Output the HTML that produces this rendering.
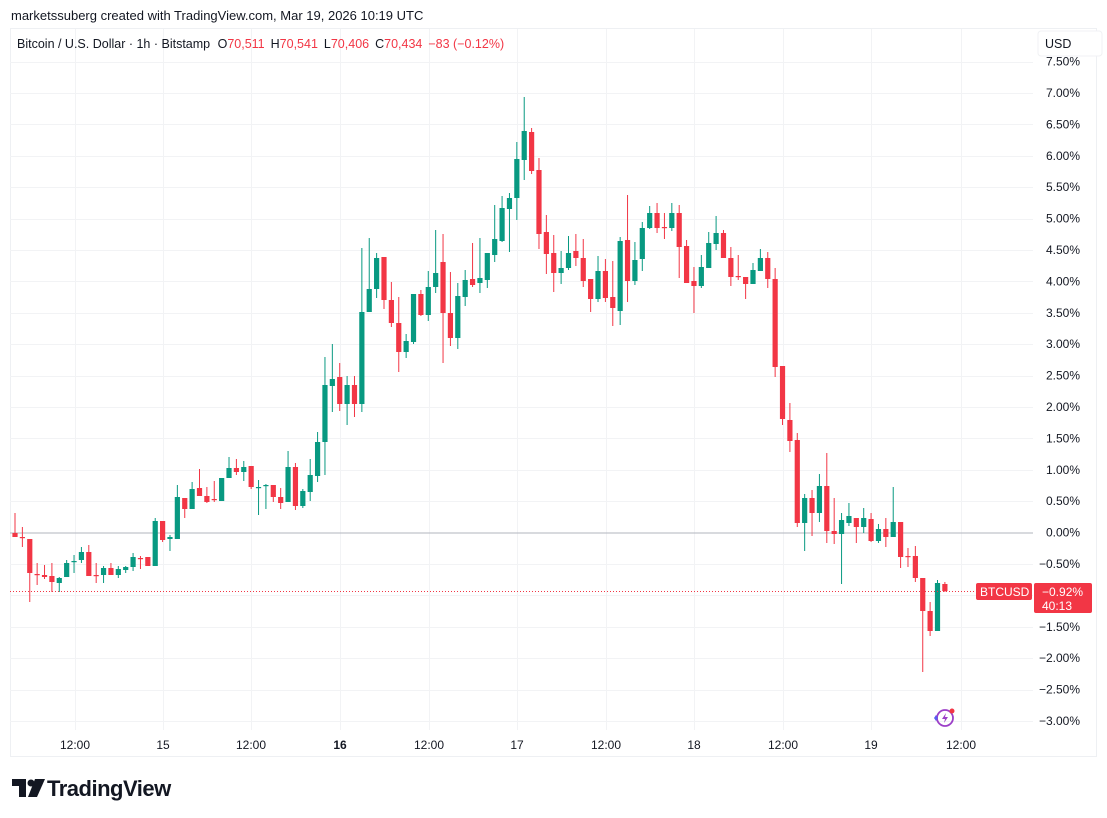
<!DOCTYPE html>
<html><head><meta charset="utf-8">
<style>
body{margin:0;background:#fff;width:1107px;height:818px;overflow:hidden;font-family:"Liberation Sans",sans-serif;}
svg{position:absolute;left:0;top:0}
</style></head><body>
<svg id="s" width="1107" height="818" xmlns="http://www.w3.org/2000/svg" font-family="Liberation Sans, sans-serif">
<text x="11" y="20" font-size="13" fill="#131722">marketssuberg created with TradingView.com, Mar 19, 2026 10:19 UTC</text>
<rect x="10.5" y="28.5" width="1086" height="728" fill="none" stroke="#eef0f3"/>
<g id="grid"></g>
<line x1="10" y1="533" x2="1033" y2="533" stroke="#b2b5be" stroke-width="1"/>
<g id="c"></g>
<line x1="10" y1="591.5" x2="976" y2="591.5" stroke="#f23645" stroke-width="1" stroke-dasharray="1,2"/>
<text x="17" y="48" font-size="12.5" fill="#131722">Bitcoin / U.S. Dollar · 1h · Bitstamp <tspan dx="4">O</tspan><tspan fill="#f23645">70,511</tspan><tspan dx="6">H</tspan><tspan fill="#f23645">70,541</tspan><tspan dx="6">L</tspan><tspan fill="#f23645">70,406</tspan><tspan dx="6">C</tspan><tspan fill="#f23645">70,434</tspan><tspan dx="6" fill="#f23645">−83 (−0.12%)</tspan></text>
<g id="ax" font-size="12" fill="#131722" text-anchor="end"></g>
<rect x="1038" y="31" width="64" height="25" rx="3" fill="#fff" stroke="#f0f1f4"/>
<text x="1045" y="48" font-size="12.5" fill="#131722">USD</text>
<rect x="976" y="583" width="56" height="17" rx="2" fill="#f23645"/>
<text x="980" y="596" font-size="12" fill="#fff">BTCUSD</text>
<rect x="1034" y="583" width="58" height="30" rx="2" fill="#f23645"/>
<text x="1042" y="596" font-size="12" fill="#fff">−0.92%</text>
<text x="1042" y="610" font-size="12" fill="#fff">40:13</text>
<g font-size="12" fill="#131722" text-anchor="middle">
<text x="75" y="749">12:00</text><text x="163" y="749">15</text><text x="251" y="749">12:00</text><text x="340" y="749" font-weight="bold">16</text><text x="429" y="749">12:00</text><text x="517" y="749">17</text><text x="606" y="749">12:00</text><text x="694" y="749">18</text><text x="783" y="749">12:00</text><text x="871" y="749">19</text><text x="961" y="749">12:00</text>
</g>
<g transform="translate(945,718)">
<circle cx="0" cy="0" r="8" fill="none" stroke="#9c3fc8" stroke-width="1.8"/>
<path d="M1,-5 L-3,1 L0,1 L-1,5 L3,-1 L0,-1 Z" fill="#9c3fc8"/>
<circle cx="7" cy="-7" r="2.5" fill="#f23645"/>
<path d="M-9,-3 L-7,0 L-9,3 L-11,0 Z" fill="#5b5bf0"/>
</g>
<g transform="translate(12,779)" fill="#131722">
<path d="M0,0 H14 V18 H7 V7 H0 Z"/>
<circle cx="19" cy="4" r="3.5"/>
<path d="M23,0 H33 L25,18 H16 Z"/>
<text x="35" y="17" font-size="22" font-weight="bold" letter-spacing="-0.5">TradingView</text>
</g>
</svg>
<script>
var ns="http://www.w3.org/2000/svg";
function el(p,t,a){var e=document.createElementNS(ns,t);for(var k in a)e.setAttribute(k,a[k]);p.appendChild(e);return e;}
var g=document.getElementById('grid');
[75,163,251,340,429,517,606,694,783,871,961].forEach(function(x){el(g,'line',{x1:x+.5,y1:29,x2:x+.5,y2:730,stroke:'#f2f3f5'});});
var ax=document.getElementById('ax');
for(var i=0;i<=21;i++){var p=7.5-i*0.5;var y=532.6-p*62.8;
 if(Math.abs(p)>1e-9) el(g,'line',{x1:10,y1:Math.round(y)+.5,x2:1033,y2:Math.round(y)+.5,stroke:'#f2f3f5'});
 var t=el(ax,'text',{x:1080,y:y+4});t.textContent=(p<0?'−':'')+Math.abs(p).toFixed(2)+'%';}
var D=[
['r',533,537,513,537],['r',537,538,527,547],['r',539,573,539,602],['r',574,575,563,585],['r',575,577,565,579],['r',576,582,563,592],['g',578,583,577,592],['g',563,577,560,577],['g',561,562,555,573],['g',552,560,547,563],
['r',552,576,545,576],['r',575,576,563,583],['g',568,575,566,583],['r',568,575,563,575],['g',569,575,566,578],['g',567,570,566,573],['g',557,567,553,571],['r',558,559,556,569],['r',557,566,557,566],['g',521,566,518,566],
['r',521,540,521,542],['g',537,539,535,551],['g',497,539,485,539],['r',498,509,498,518],['g',489,509,482,509],['r',488,496,469,496],['r',496,502,487,503],['r',499,500,481,502],['g',478,501,478,501],['g',468,478,457,478],
['r',468,472,459,475],['g',467,472,461,481],['r',466,487,466,489],['g',487,488,480,515],['g',485,486,484,509],['r',485,497,485,502],['r',497,503,488,509],['g',467,502,451,502],['r',467,506,463,510],['g',491,506,489,508],
['g',475,492,459,501],['g',442,476,432,482],['g',385,442,357,475],['g',379,386,344,412],['r',377,404,363,411],['g',385,404,376,425],['r',385,404,376,417],['g',312,404,248,412],['g',289,312,238,312],['g',258,289,253,298],
['r',257,300,257,309],['r',300,323,282,327],['r',323,352,297,372],['g',341,352,334,358],['g',294,342,294,344],['r',294,315,290,316],['g',287,315,271,321],['g',273,287,230,293],['r',262,313,234,363],['r',313,338,272,346],
['g',296,338,283,349],['g',280,297,270,306],['r',279,285,243,287],['g',278,283,238,293],['g',253,280,253,288],['g',239,255,205,262],['g',208,241,196,242],['g',198,209,193,252],['g',159,198,142,220],['g',131,160,97,180],
['r',132,171,128,174],['r',170,234,158,249],['r',232,254,215,274],['r',253,273,235,292],['g',268,273,251,284],['g',253,268,236,270],['r',251,258,234,266],['r',258,281,239,287],['r',279,299,279,312],['g',271,299,256,302],
['r',271,298,259,302],['r',297,308,261,326],['g',241,311,237,325],['r',240,281,195,302],['g',260,281,242,285],['g',228,259,222,271],['g',213,228,206,229],['r',213,228,203,233],['r',227,228,213,239],['g',213,228,203,231],
['r',213,247,205,278],['r',246,283,240,283],['r',281,286,267,313],['g',267,286,255,288],['g',243,268,232,268],['g',233,244,216,250],['r',233,258,230,258],['r',258,277,247,286],['r',276,277,255,280],['r',277,284,277,299],
['g',270,284,263,284],['g',258,271,249,271],['r',258,279,252,288],['r',279,367,268,377],['r',366,419,366,425],['r',420,441,403,452],['r',440,523,433,527],['g',498,523,494,551],['r',498,513,490,536],['g',486,513,474,522],
['r',486,531,453,543],['r',531,534,498,544],['g',520,534,513,584],['g',516,523,503,526],['r',518,527,518,543],['g',518,527,508,533],['r',519,541,513,542],['g',529,541,524,543],['r',529,537,518,547],['g',522,537,487,537],
['r',522,557,522,568],['r',556,557,548,567],['r',556,578,546,582],['r',578,611,578,672],['r',611,631,602,636],['g',583,631,580,631],['r',584,591,582,592]];
var c=document.getElementById('c');
D.forEach(function(d,i){var x=15+i*7.38;var col=d[0]=='g'?'#089981':'#f23645';
 el(c,'line',{x1:x,y1:d[3],x2:x,y2:d[4],stroke:col,'stroke-width':1});
 el(c,'rect',{x:x-2.6,y:d[1],width:5.2,height:Math.max(1.2,d[2]-d[1]),fill:col});});
</script>
</body></html>
